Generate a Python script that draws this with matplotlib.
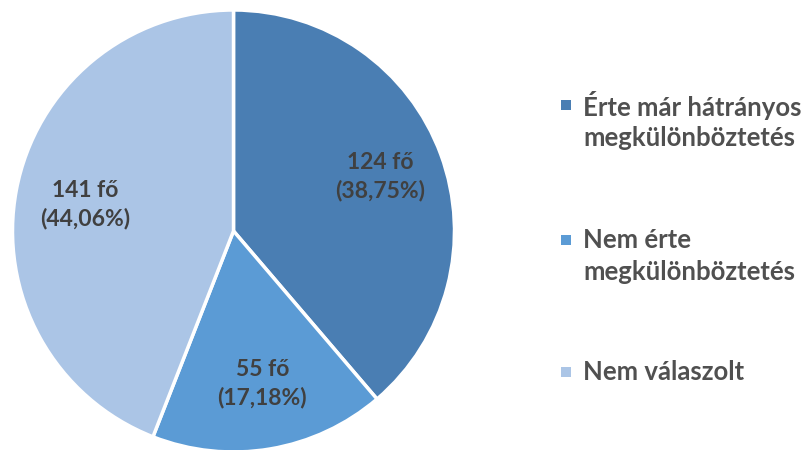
import matplotlib
matplotlib.use("Agg")
import matplotlib.pyplot as plt
from matplotlib.patches import Rectangle

categories = ["Érte már hátrányos\nmegkülönböztetés", "Nem érte\nmegkülönböztetés", "Nem válaszolt"]
counts = [124, 55, 141]
percents = ["38,75%", "17,18%", "44,06%"]
colors = ["#4A7EB3", "#5B9BD5", "#ABC5E6"]
label_pos = [(0.665, 0.245), (0.13, -0.69), (-0.67, 0.12)]

plt.rcParams['font.family'] = ['Lato', 'DejaVu Sans']
W, H = 808, 450
fig = plt.figure(figsize=(W/100, H/100), dpi=100)
cx, cy, r = 233.5, 231, 221
ax = fig.add_axes([(cx - r)/W, (H - cy - r)/H, 2*r/W, 2*r/H])
ax.pie(counts, colors=colors, startangle=90, counterclock=False,
       wedgeprops=dict(edgecolor="white", linewidth=2.5), radius=1)
ax.set_xlim(-1, 1); ax.set_ylim(-1, 1)
ax.set_aspect('equal')
ax.axis('off')
for c, p, (x, y) in zip(counts, percents, label_pos):
    ax.text(x, y, f"{c} fő\n({p})", ha='center', va='center', fontsize=16.5,
            fontweight='bold', color='#404040', linespacing=1.35)

ys = [105, 240, 372]
for col, y in zip(colors, ys):
    fig.patches.append(Rectangle((561/W, (H - y - 5)/H), 10/W, 10/H,
                                 transform=fig.transFigure, facecolor=col, edgecolor='none'))
text_rows = [[("Érte már hátrányos", 105), ("megkülönböztetés", 138)],
             [("Nem érte", 240), ("megkülönböztetés", 272)],
             [("Nem válaszolt", 372)]]
for rows in text_rows:
    for t, y in rows:
        fig.text(583/W, (H - y)/H, t, ha='left', va='center', fontsize=18.5,
                 fontweight='bold', color='#505050')
fig.savefig("out.png", dpi=100)
